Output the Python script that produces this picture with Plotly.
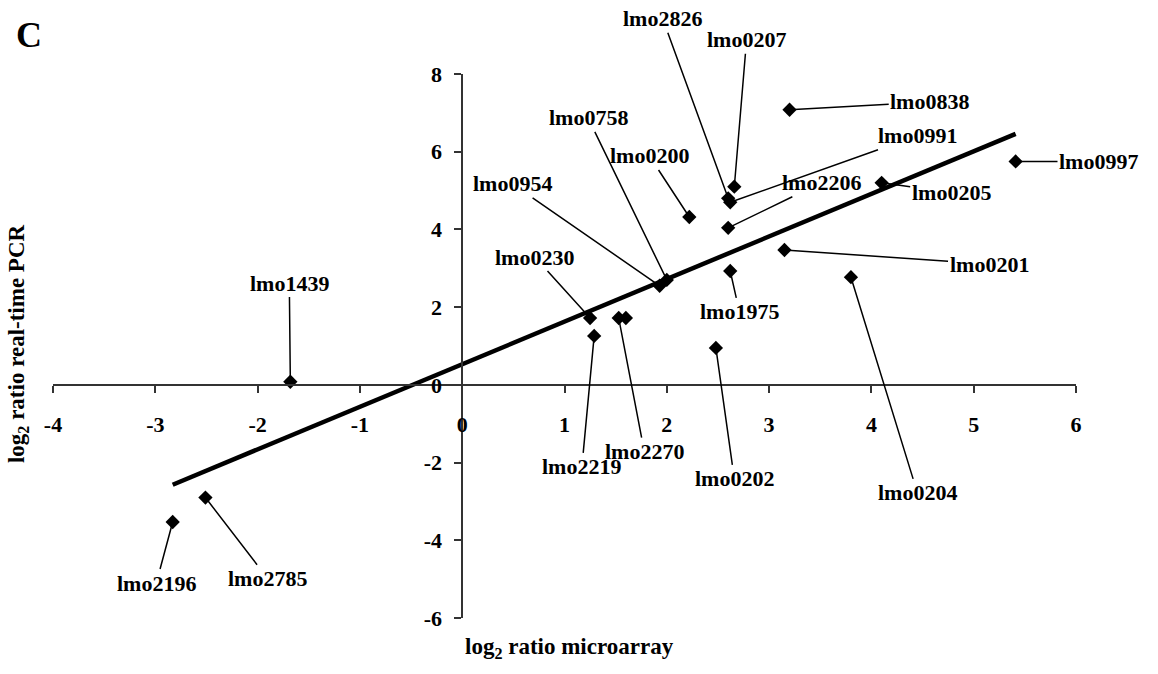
import plotly.graph_objects as go

# ---- data ----
genes = ["lmo2196", "lmo2785", "lmo1439", "lmo0230", "lmo2219", "lmo2270", "", "lmo0954",
         "lmo0758", "lmo0200", "lmo0202", "lmo2826", "lmo0991", "lmo0207", "lmo2206",
         "lmo1975", "lmo0838", "lmo0201", "lmo0205", "lmo0204", "lmo0997"]
x_microarray = [-2.83, -2.51, -1.68, 1.25, 1.29, 1.53, 1.60, 1.93,
                2.00, 2.22, 2.48, 2.60, 2.62, 2.66, 2.60,
                2.62, 3.20, 3.15, 4.10, 3.80, 5.41]
y_pcr = [-3.53, -2.90, 0.08, 1.72, 1.26, 1.72, 1.72, 2.55,
         2.70, 4.32, 0.95, 4.80, 4.70, 5.10, 4.04,
         2.93, 7.08, 3.47, 5.20, 2.77, 5.75]
# label (text centre) positions in data units
label_x = [-2.99, -1.90, -1.69, 0.71, 1.17, 1.78, None, 0.49,
           1.23, 1.83, 2.66, 1.96, 4.45, 2.78, 3.51,
           2.71, 4.57, 5.15, 4.78, 4.45, 6.22]
label_y = [-5.10, -4.99, 2.62, 3.29, -2.11, -1.72, None, 5.17,
           6.87, 5.89, -2.42, 9.42, 6.41, 8.88, 5.20,
           1.88, 7.28, 3.11, 4.95, -2.78, 5.75]
trend_x = [-2.83, 5.41]
trend_y = [-2.57, 6.46]
x_ticks = [-4, -3, -2, -1, 0, 1, 2, 3, 4, 5, 6]
y_ticks = [-6, -4, -2, 0, 2, 4, 6, 8]

FONT = "Liberation Serif, Times New Roman, serif"

fig = go.Figure()
fig.add_trace(go.Scatter(x=trend_x, y=trend_y, mode="lines",
                         line=dict(color="black", width=4.5), hoverinfo="skip",
                         showlegend=False))
fig.add_trace(go.Scatter(x=x_microarray, y=y_pcr, mode="markers",
                         marker=dict(symbol="diamond", size=11, color="black"),
                         showlegend=False, cliponaxis=False))

annotations = []
for g, px, py, lx, ly in zip(genes, x_microarray, y_pcr, label_x, label_y):
    if not g:
        continue
    annotations.append(dict(x=px, y=py, xref="x", yref="y", ax=lx, ay=ly,
                            axref="x", ayref="y", text=g, showarrow=True,
                            arrowhead=0, arrowwidth=1.5, arrowcolor="black",
                            standoff=0, font=dict(family=FONT, size=22, color="black",
                                                  weight="bold")))

annotations += [
    dict(text="log<sub>2</sub> ratio microarray", xref="paper", yref="paper",
         x=0.505, y=-0.055, showarrow=False, xanchor="center", yanchor="middle",
         font=dict(family=FONT, size=23, color="black", weight="bold")),
    dict(text="log<sub>2</sub> ratio real-time PCR", xref="paper", yref="paper",
         x=-0.034, y=0.504, showarrow=False, textangle=-90, xanchor="center",
         yanchor="middle", font=dict(family=FONT, size=23, color="black", weight="bold")),
    dict(text="C", xref="paper", yref="paper", x=-0.0235, y=1.072, showarrow=False,
         xanchor="center", yanchor="middle",
         font=dict(family=FONT, size=36, color="black", weight="bold")),
]

axis_common = dict(showgrid=False, zeroline=False, showline=True, linecolor="#333",
                   linewidth=1.5, ticks="outside", ticklen=7, tickwidth=1.5,
                   tickcolor="#333", anchor="free",
                   tickfont=dict(family=FONT, size=22, color="black", weight="bold"))

fig.update_layout(
    width=1158, height=674, autosize=False,
    margin=dict(l=53, r=82, t=74, b=56),
    paper_bgcolor="white", plot_bgcolor="white",
    xaxis=dict(range=[-4, 6], domain=[0, 1], position=6 / 14,
               tickvals=x_ticks, ticktext=[str(t) for t in x_ticks],
               ticklabelstandoff=13, **axis_common),
    yaxis=dict(range=[-6, 8], domain=[0, 1], position=0.4,
               tickvals=y_ticks, ticktext=[str(t) for t in y_ticks],
               ticklabelstandoff=8, **axis_common),
    annotations=annotations,
)

fig.write_html("out.html")
